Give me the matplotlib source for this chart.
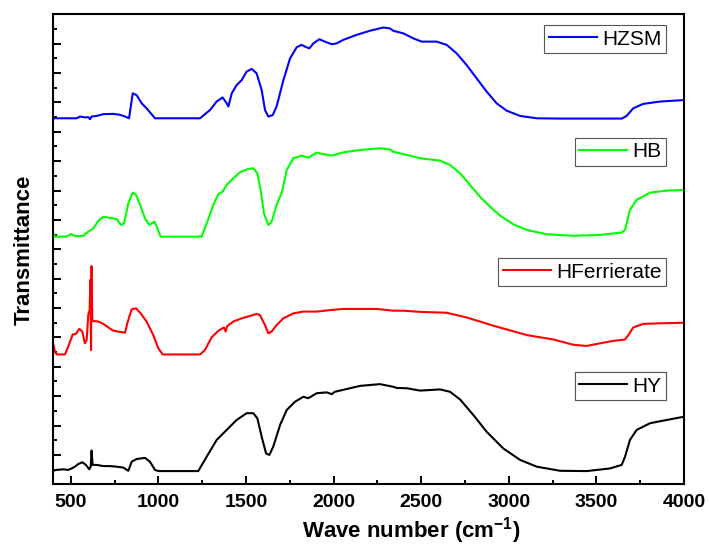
import matplotlib
matplotlib.use("Agg")
import matplotlib.pyplot as plt
from matplotlib.ticker import MultipleLocator, NullFormatter

plt.rcParams['font.family'] = ['Liberation Sans', 'DejaVu Sans']
plt.rcParams['mathtext.fontset'] = 'custom'
plt.rcParams['mathtext.rm'] = 'Liberation Sans'
plt.rcParams['mathtext.bf'] = 'Liberation Sans:bold'

# --- spectra (wavenumber, offset transmittance) ---
hzsm_wn = [400, 534, 553, 581, 600, 610, 619, 648, 686, 743, 781, 810, 833, 854, 876, 905, 933, 981,
           1238, 1295, 1333, 1367, 1390, 1400, 1419, 1447, 1476, 1504, 1533, 1561, 1590, 1609, 1628,
           1653, 1675, 1714, 1752, 1790, 1818, 1837, 1862, 1885, 1919, 1951, 1990, 2018, 2056, 2132,
           2208, 2284, 2322, 2341, 2399, 2456, 2503, 2589, 2646, 2703, 2760, 2817, 2874, 2931, 2988,
           3065, 3160, 3293, 3483, 3645, 3673, 3711, 3768, 3864, 4000]
hzsm_t = [12.46, 12.46, 12.52, 12.49, 12.50, 12.43, 12.52, 12.54, 12.60, 12.61, 12.58, 12.52, 12.46,
          13.31, 13.25, 12.97, 12.80, 12.46, 12.46, 12.74, 13.03, 13.17, 12.97, 12.86, 13.31, 13.59,
          13.76, 14.05, 14.14, 13.99, 13.42, 12.74, 12.52, 12.57, 12.86, 13.76, 14.50, 14.88, 14.96,
          14.90, 14.84, 15.01, 15.15, 15.07, 14.98, 15.01, 15.13, 15.30, 15.44, 15.55, 15.52, 15.44,
          15.35, 15.18, 15.07, 15.07, 14.96, 14.67, 14.27, 13.82, 13.37, 12.97, 12.72, 12.54, 12.46,
          12.45, 12.45, 12.45, 12.54, 12.80, 12.95, 13.03, 13.08]

hb_wn = [400, 410, 477, 500, 524, 572, 600, 629, 658, 686, 724, 762, 787, 804, 829, 854, 873, 896, 924,
         949, 977, 991, 1013, 1247, 1276, 1314, 1343, 1367, 1390, 1428, 1466, 1504, 1542, 1565, 1584,
         1603, 1628, 1647, 1672, 1691, 1704, 1733, 1771, 1818, 1856, 1904, 1942, 1990, 2056, 2151,
         2265, 2322, 2341, 2399, 2494, 2608, 2665, 2722, 2779, 2836, 2893, 2950, 3027, 3103, 3217,
         3369, 3521, 3645, 3664, 3692, 3730, 3807, 3902, 4000]
hb_t = [8.57, 8.43, 8.43, 8.52, 8.45, 8.46, 8.60, 8.71, 8.97, 9.11, 9.07, 9.03, 8.83, 8.88, 9.57, 9.93,
        9.85, 9.51, 9.05, 8.83, 8.94, 8.77, 8.43, 8.43, 8.88, 9.51, 9.88, 9.96, 10.19, 10.42, 10.62,
        10.72, 10.76, 10.59, 10.02, 9.22, 8.83, 8.94, 9.45, 9.74, 9.91, 10.70, 11.10, 11.19, 11.12,
        11.29, 11.24, 11.19, 11.30, 11.38, 11.44, 11.40, 11.32, 11.24, 11.10, 11.02, 10.87, 10.59,
        10.19, 9.79, 9.45, 9.15, 8.85, 8.66, 8.51, 8.46, 8.49, 8.57, 8.66, 9.34, 9.68, 9.93, 10.00,
        10.02]

hfer_wn = [400, 410, 420, 467, 486, 511, 530, 549, 566, 581, 591, 600, 608, 612, 616, 619, 623, 629,
           658, 686, 715, 743, 772, 810, 823, 848, 873, 899, 933, 971, 1000, 1025, 1238, 1266, 1304,
           1343, 1375, 1384, 1394, 1428, 1476, 1523, 1561, 1580, 1609, 1628, 1647, 1675, 1714, 1771,
           1828, 1904, 1980, 2056, 2151, 2246, 2341, 2399, 2494, 2646, 2760, 2912, 3103, 3255, 3369,
           3445, 3521, 3597, 3664, 3683, 3711, 3768, 3864, 4000]
hfer_t = [4.78, 4.52, 4.42, 4.42, 4.69, 5.10, 5.12, 5.29, 5.20, 4.80, 4.91, 5.76, 5.93, 6.96, 4.57,
          7.43, 5.59, 5.56, 5.54, 5.46, 5.34, 5.23, 5.20, 5.16, 5.48, 5.96, 5.99, 5.82, 5.54, 5.08,
          4.63, 4.42, 4.42, 4.57, 5.00, 5.23, 5.34, 5.20, 5.39, 5.54, 5.65, 5.73, 5.80, 5.76, 5.42,
          5.14, 5.20, 5.42, 5.65, 5.82, 5.88, 5.88, 5.93, 5.97, 5.97, 5.97, 5.91, 5.91, 5.87, 5.84,
          5.68, 5.40, 5.08, 4.93, 4.75, 4.71, 4.80, 4.88, 4.93, 5.08, 5.34, 5.46, 5.48, 5.50]

hy_wn = [400, 420, 458, 486, 505, 524, 543, 566, 587, 606, 614, 619, 625, 648, 686, 724, 762, 800,
         829, 848, 876, 924, 952, 981, 1000, 1228, 1276, 1333, 1390, 1447, 1504, 1542, 1565, 1590,
         1615, 1634, 1656, 1695, 1733, 1780, 1828, 1856, 1904, 1961, 1990, 2008, 2094, 2151, 2265,
         2341, 2361, 2418, 2494, 2608, 2665, 2722, 2798, 2874, 2969, 3065, 3160, 3293, 3445, 3578,
         3645, 3664, 3692, 3730, 3807, 3902, 4000]
hy_t = [0.46, 0.49, 0.51, 0.49, 0.54, 0.60, 0.69, 0.75, 0.66, 0.51, 0.60, 1.15, 0.66, 0.66, 0.62,
        0.62, 0.60, 0.57, 0.46, 0.77, 0.86, 0.90, 0.77, 0.49, 0.45, 0.45, 0.94, 1.51, 1.85, 2.19,
        2.42, 2.42, 2.25, 1.62, 1.05, 1.00, 1.28, 2.02, 2.53, 2.81, 2.98, 2.93, 3.10, 3.13, 3.07,
        3.15, 3.27, 3.35, 3.41, 3.32, 3.28, 3.27, 3.19, 3.23, 3.15, 2.89, 2.36, 1.79, 1.22, 0.83,
        0.60, 0.46, 0.45, 0.54, 0.66, 0.94, 1.51, 1.85, 2.08, 2.19, 2.30]

series = [
    ("HZSM", hzsm_wn, hzsm_t, "#0000ff", 0.977),
    ("HB", hb_wn, hb_t, "#00ff00", 0.737),
    ("HFerrierate", hfer_wn, hfer_t, "#ff0000", 0.4815),
    ("HY", hy_wn, hy_t, "#000000", 0.239),
]

fig = plt.figure(figsize=(7.09, 5.45), dpi=100)
ax = fig.add_axes([53.2 / 709, 1 - 484.3 / 545, 630.7 / 709, 470 / 545])

for name, wn, t, color, ytop in series:
    line, = ax.plot(wn, t, color=color, lw=1.5, label=name, solid_joinstyle="round")
    leg = ax.legend(handles=[line], loc="upper right", bbox_to_anchor=(0.9716, ytop),
                    fontsize=15, frameon=True, fancybox=False, framealpha=1,
                    edgecolor="#555555", handlelength=2.3, handletextpad=0.25,
                    borderpad=0.22, borderaxespad=0)
    leg.get_frame().set_linewidth(0.8)
    ax.add_artist(leg)

ax.set_xlim(400, 4000)
ax.set_ylim(0, 16)
ax.xaxis.set_major_locator(MultipleLocator(500))
ax.xaxis.set_minor_locator(MultipleLocator(250))
ax.yaxis.set_major_locator(MultipleLocator(1))
ax.yaxis.set_minor_locator(MultipleLocator(0.5))
ax.yaxis.set_major_formatter(NullFormatter())

ax.tick_params(which="both", direction="in", top=False, right=False, width=1.4)
ax.tick_params(which="major", length=6, pad=7, labelsize=14)
ax.tick_params(which="minor", length=3)
for lbl in ax.get_xticklabels():
    lbl.set_fontweight("bold")
for sp in ax.spines.values():
    sp.set_linewidth(1.5)

ax.set_xlabel("Wave number (cm$^{\\mathbf{-1}}$)", fontsize=16, fontweight="bold")
ax.xaxis.set_label_coords(0.567, -0.099)
ax.xaxis.label.set_va("center")
ax.set_ylabel("Transmittance", fontsize=16, fontweight="bold")
ax.yaxis.set_label_coords(-0.046, 0.4985)
ax.yaxis.label.set_va("center")

fig.savefig("out.png", dpi=100)
